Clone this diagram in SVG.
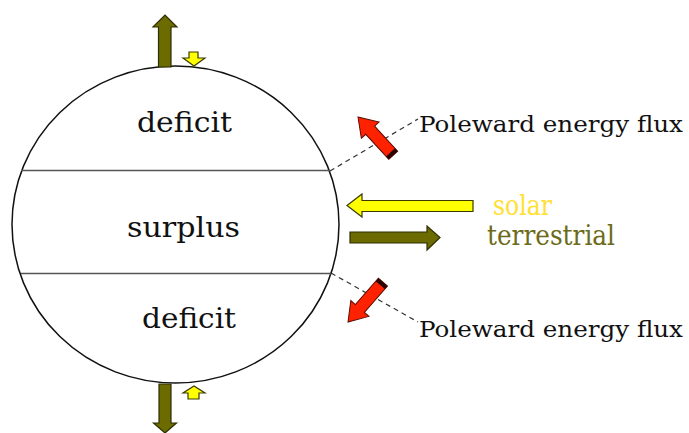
<svg xmlns="http://www.w3.org/2000/svg" width="689" height="433" viewBox="0 0 689 433">
<style>
.lbl{font-family:"DejaVu Serif","Liberation Serif",serif;fill:#111}
.big{font-size:27px}
.flux{font-size:23px}
.olive{fill:#6b6b00;stroke:#2e2e00;stroke-width:1.2}
.yel{fill:#ffff00;stroke:#3a3a00;stroke-width:1.2}
.red{fill:#ff2200;stroke:#5a0a00;stroke-width:1}
.dash{stroke:#333;stroke-width:1.2;stroke-dasharray:5,4;fill:none}
</style>
<rect width="689" height="433" fill="#fff"/>
<g id="connectors">
<line class="dash" x1="330" y1="171" x2="418" y2="119"/>
<line class="dash" x1="331" y1="273" x2="418" y2="322"/>
</g>
<g id="earth">
<ellipse cx="175.5" cy="224.5" rx="163.5" ry="158.5" fill="none" stroke="#111" stroke-width="1.5"/>
<line x1="21" y1="170.5" x2="330" y2="170.5" stroke="#555" stroke-width="1.5"/>
<line x1="21" y1="273.5" x2="331" y2="273.5" stroke="#555" stroke-width="1.5"/>
</g>
<g id="deficit-top"><text class="lbl big" x="137" y="132" textLength="95" lengthAdjust="spacingAndGlyphs">deficit</text></g>
<g id="surplus"><text class="lbl big" x="127" y="237" textLength="113" lengthAdjust="spacingAndGlyphs">surplus</text></g>
<g id="deficit-bottom"><text class="lbl big" x="142" y="328" textLength="94" lengthAdjust="spacingAndGlyphs">deficit</text></g>
<g id="arrow-top-out"><path class="olive" d="M158.5,67 L158.5,27 L153,27 L165,15 L177,27 L171,27 L171,67 Z"/></g>
<g id="arrow-top-in"><path class="yel" d="M189,52 L198,52 L198,58 L205,58 L194,66 L183,58 L189,58 Z"/></g>
<g id="arrow-bottom-out"><path class="olive" d="M159,384 L171,384 L171,423 L176.5,423 L165,433 L153.5,423 L159,423 Z"/></g>
<g id="arrow-bottom-in"><path class="yel" d="M188,399 L199,399 L199,393 L205,393 L194,386 L183,393 L188,393 Z"/></g>
<g id="solar-arrow"><path class="yel" d="M347,205.5 L362,194 L362,200.5 L473,200.5 L473,211.5 L362,211.5 L362,217 Z"/></g>
<g id="terrestrial-arrow"><path class="olive" d="M350,232 L427,232 L427,226 L440,237.5 L427,250 L427,243 L350,243 Z"/></g>
<g id="flux-top">
<g transform="translate(358,117) rotate(-42.6)">
<path class="red" d="M0,0 L12,18 L6,18 L6,52 L-6,52 L-6,18 L-12,18 Z"/>
<rect x="-6" y="48" width="12" height="4" fill="#2a0500"/>
</g>
<text class="lbl flux" x="419" y="132" textLength="264" lengthAdjust="spacingAndGlyphs">Poleward energy flux</text>
</g>
<g id="flux-bottom">
<g transform="translate(348,322) rotate(-138.8)">
<path class="red" d="M0,0 L12,18 L6,18 L6,53 L-6,53 L-6,18 L-12,18 Z"/>
<rect x="-6" y="49" width="12" height="4" fill="#2a0500"/>
</g>
<text class="lbl flux" x="419" y="337" textLength="264" lengthAdjust="spacingAndGlyphs">Poleward energy flux</text>
</g>
<g id="legend">
<text class="lbl big" x="493" y="215" style="fill:#ffe033" textLength="59" lengthAdjust="spacingAndGlyphs">solar</text>
<text class="lbl big" x="487" y="245" style="fill:#6b6b1a" textLength="128" lengthAdjust="spacingAndGlyphs">terrestrial</text>
</g>
</svg>
